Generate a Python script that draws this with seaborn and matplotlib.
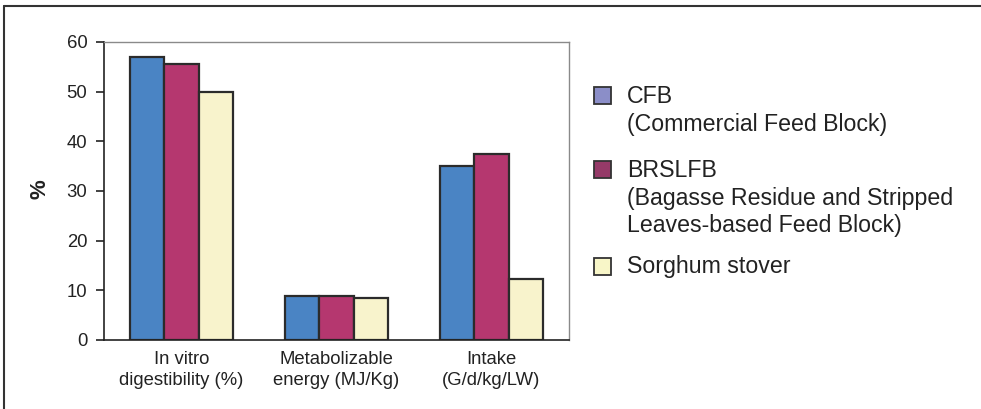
import matplotlib
matplotlib.use("Agg")
import matplotlib.pyplot as plt
import seaborn as sns
import pandas as pd
from matplotlib.patches import Rectangle
from matplotlib.lines import Line2D

# ---- data ----
categories = ["In vitro\ndigestibility (%)", "Metabolizable\nenergy (MJ/Kg)", "Intake\n(G/d/kg/LW)"]
series = ["CFB", "BRSLFB", "Sorghum stover"]
legend_lines = [["CFB", "(Commercial Feed Block)"],
                ["BRSLFB", "(Bagasse Residue and Stripped", "Leaves-based Feed Block)"],
                ["Sorghum stover"]]
cfb = [56.9, 8.85, 35.1]
brslfb = [55.5, 8.85, 37.4]
sorghum = [50.0, 8.4, 12.2]
yticks = [0, 10, 20, 30, 40, 50, 60]
ylabel = "%"

bar_colors = ["#4a84c4", "#b5376f", "#f8f3cc"]
legend_colors = ["#8b8ec8", "#953a68", "#f8f6c8"]

sns.set_theme(style="white")
plt.rcParams['font.family'] = ['Liberation Sans', 'DejaVu Sans']

rows = []
for s, vals in zip(series, [cfb, brslfb, sorghum]):
    for c, v in zip(categories, vals):
        rows.append({"category": c, "series": s, "value": v})
df = pd.DataFrame(rows)

W, H = 981, 409
fig = plt.figure(figsize=(W / 100, H / 100), dpi=100)
fig.patch.set_facecolor("white")
ax = fig.add_axes([104 / W, (H - 340) / H, 465 / W, 298 / H])

sns.barplot(data=df, x="category", y="value", hue="series", order=categories,
            hue_order=series, palette=bar_colors, width=0.667, gap=0,
            edgecolor="#2b2b2b", linewidth=1.6, saturation=1, ax=ax, legend=False)

ax.set_xlim(-0.5, len(categories) - 0.5)
ax.set_ylim(0, 60)
ax.set_yticks(yticks)
ax.set_yticklabels([str(t) for t in yticks], fontsize=13.3, color="#222222")
ax.set_xticks(range(len(categories)))
ax.set_xticklabels(categories, fontsize=13.3, color="#222222", linespacing=1.33)
ax.set_xticks([i - 0.5 for i in range(len(categories) + 1)], minor=True)
ax.tick_params(axis="x", which="major", length=0, pad=8)
ax.tick_params(axis="x", which="minor", length=6, width=1.2, color="#222222", direction="out")
ax.tick_params(axis="y", length=6, width=1.2, color="#222222", direction="out", pad=6, left=True)
ax.set_xlabel("")
ax.set_ylabel("")
for side in ["left", "bottom"]:
    ax.spines[side].set_color("#222222")
    ax.spines[side].set_linewidth(1.2)
for side in ["top", "right"]:
    ax.spines[side].set_color("#8a8a8a")
    ax.spines[side].set_linewidth(1.0)

fig.text(40 / W, 1 - 189 / H, ylabel, rotation=90, fontsize=16, fontweight="bold",
         ha="center", va="center", color="#222222")

# ---- legend (manual) ----
square_tops = [87, 161, 258]
first_baselines = [103, 177, 273]
step = 27.5
for i in range(len(series)):
    fig.patches.append(Rectangle((594 / W, 1 - (square_tops[i] + 17) / H), 17 / W, 17 / H,
                                 transform=fig.transFigure, facecolor=legend_colors[i],
                                 edgecolor="#333333", linewidth=1.3))
    for j, line in enumerate(legend_lines[i]):
        fig.text(627 / W, 1 - (first_baselines[i] + j * step) / H, line, fontsize=16.7,
                 ha="left", va="baseline", color="#222222")

# ---- outer frame ----
fig.add_artist(Line2D([4 / W, 1.0], [1 - 6 / H, 1 - 6 / H], transform=fig.transFigure,
                      color="#333333", linewidth=1.5))
fig.add_artist(Line2D([4 / W, 4 / W], [1 - 6 / H, 0.0], transform=fig.transFigure,
                      color="#333333", linewidth=1.5))

fig.savefig("out.png", dpi=100, facecolor="white")
